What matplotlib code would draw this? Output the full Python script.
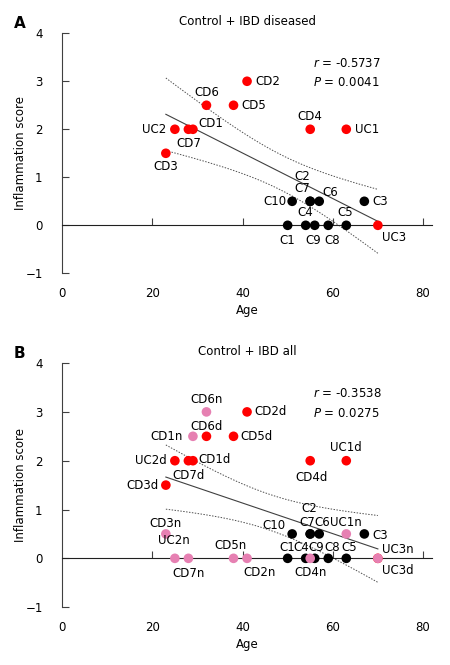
import numpy as np
import matplotlib.pyplot as plt

# controls (shared by both panels)
ctrl_names = ['C1', 'C2', 'C3', 'C4', 'C5', 'C6', 'C7', 'C8', 'C9', 'C10']
ctrl_age = [50, 55, 67, 54, 63, 57, 55, 59, 56, 51]
ctrl_score = [0, 0.5, 0.5, 0, 0, 0.5, 0.5, 0, 0, 0.5]

# IBD patients, diseased tissue
ibd_names = ['UC1', 'UC2', 'UC3', 'CD1', 'CD2', 'CD3', 'CD4', 'CD5', 'CD6', 'CD7']
ibd_age = [63, 25, 70, 29, 41, 23, 55, 38, 32, 28]
ibd_d_score = [2, 2, 0, 2, 3, 1.5, 2, 2.5, 2.5, 2]
# IBD patients, non-diseased tissue
ibd_n_score = [0.5, 0, 0, 2.5, 0, 0.5, 0, 0, 3, 0]

stats_a = ['-0.5737', '0.0041']
stats_b = ['-0.3538', '0.0275']

RED = '#ff0000'
PINK = '#e680b2'
FS = 8.5

# label placement: (dx, dy) in points, ha
lab_a = {
    'C1': (0, -11, 'center'), 'C2': (-6, 18, 'center'), 'C3': (6, 0, 'left'),
    'C4': (0, 9, 'center'), 'C5': (-1, 9, 'center'), 'C6': (8, 6, 'center'),
    'C7': (-6, 9, 'center'), 'C8': (3, -11, 'center'), 'C9': (-1, -11, 'center'),
    'C10': (-4, 0, 'right'),
    'UC1': (6, 0, 'left'), 'UC2': (-6, 0, 'right'), 'UC3': (12, -9, 'center'),
    'CD1': (4, 4, 'left'), 'CD2': (6, 0, 'left'), 'CD3': (0, -9.5, 'center'),
    'CD4': (0, 9, 'center'), 'CD5': (6, 0, 'left'), 'CD6': (0, 9, 'center'),
    'CD7': (0, -10, 'center'),
}
lab_b = {
    'C1': (0, 8, 'center'), 'C2': (-1, 18, 'center'), 'C3': (6, -1, 'left'),
    'C4': (-3, 8, 'center'), 'C5': (2, 8, 'center'), 'C6': (2, 8, 'center'),
    'C7': (-2, 8, 'center'), 'C8': (3, 8, 'center'), 'C9': (1, 8, 'center'),
    'C10': (-5, 6, 'right'),
    'UC1d': (0, 9.5, 'center'), 'UC2d': (-6, 0, 'right'), 'UC3d': (3, -9, 'left'),
    'CD1d': (4, 1, 'left'), 'CD2d': (5, 0, 'left'), 'CD3d': (-5, 0, 'right'),
    'CD4d': (1, -12, 'center'), 'CD5d': (5, 0, 'left'), 'CD6d': (0, 7, 'center'),
    'CD7d': (0, -11, 'center'),
    'UC1n': (0, 8, 'center'), 'UC2n': (-1, 13, 'center'), 'UC3n': (3, 6.5, 'left'),
    'CD1n': (-7, 0, 'right'), 'CD2n': (9, -10, 'center'), 'CD3n': (0, 7.5, 'center'),
    'CD4n': (0, -10, 'center'), 'CD5n': (-2, 9, 'center'), 'CD6n': (0, 9, 'center'),
    'CD7n': (0, -11, 'center'),
}


def fit_with_band(x, y, t_val):
    x = np.asarray(x, float)
    y = np.asarray(y, float)
    n = len(x)
    b, a = np.polyfit(x, y, 1)
    resid = y - (a + b * x)
    s = np.sqrt(np.sum(resid ** 2) / (n - 2))
    sxx = np.sum((x - x.mean()) ** 2)
    xs = np.linspace(x.min(), x.max(), 100)
    yhat = a + b * xs
    half = t_val * s * np.sqrt(1.0 / n + (xs - x.mean()) ** 2 / sxx)
    return xs, yhat, yhat - half, yhat + half


def draw_panel(ax, groups, labels, title, stats, letter):
    ax.set_xlim(0, 82)
    ax.set_ylim(-1, 4)
    xs_all = np.concatenate([g[0] for g in groups])
    ys_all = np.concatenate([g[1] for g in groups])
    xs, yh, lo, hi = fit_with_band(xs_all, ys_all, 2.05)
    ax.plot(xs, yh, color='#404040', lw=0.8, zorder=2)
    ax.plot(xs, lo, color='#505050', lw=0.7, ls=(0, (1.5, 1.5)), zorder=2)
    ax.plot(xs, hi, color='#505050', lw=0.7, ls=(0, (1.5, 1.5)), zorder=2)

    for x, y, names, col in groups:
        ax.scatter(x, y, s=48, color=col, edgecolors='none', zorder=3)
        for xi, yi, nm in zip(x, y, names):
            dx, dy, ha = labels[nm]
            ax.annotate(nm, (xi, yi), xytext=(dx, dy), textcoords='offset points',
                        ha=ha, va='center', fontsize=FS, zorder=4)

    # axes styling
    for sp in ['top', 'right']:
        ax.spines[sp].set_visible(False)
    ax.spines['left'].set_color('#404040')
    ax.spines['bottom'].set_position(('data', 0))
    ax.spines['bottom'].set_color('#202020')
    ax.set_xticks([20, 40, 60, 80])
    ax.tick_params(axis='x', direction='in', length=5, labelbottom=False,
                   color='#404040')
    ax.set_yticks([-1, 0, 1, 2, 3, 4])
    ax.tick_params(axis='y', direction='in', length=5, labelsize=FS,
                   color='#404040', pad=14)
    sec = ax.secondary_xaxis(0)
    sec.spines['bottom'].set_visible(False)
    sec.set_xticks([0, 20, 40, 60, 80])
    sec.tick_params(length=0, labelsize=FS, pad=10)
    sec.set_xlabel('Age', fontsize=FS, labelpad=3)
    ax.set_ylabel('Inflammation score', fontsize=FS, labelpad=-1)
    ax.set_title(title, fontsize=FS, pad=6)
    ax.text(0.678, 0.875, '$r$ = ' + stats[0], transform=ax.transAxes,
            fontsize=FS, ha='left', va='center')
    ax.text(0.678, 0.795, '$P$ = ' + stats[1], transform=ax.transAxes,
            fontsize=FS, ha='left', va='center')
    ax.text(-0.13, 1.04, letter, transform=ax.transAxes, fontsize=11,
            fontweight='bold', ha='left', va='center')


fig = plt.figure(figsize=(4.5, 6.65), dpi=100)
ax_a = fig.add_axes([0.138, 0.589, 0.822, 0.361])
ax_b = fig.add_axes([0.138, 0.087, 0.822, 0.367])

draw_panel(ax_a,
           [(np.array(ctrl_age), np.array(ctrl_score), ctrl_names, 'black'),
            (np.array(ibd_age), np.array(ibd_d_score), ibd_names, RED)],
           lab_a, 'Control + IBD diseased', stats_a, 'A')

draw_panel(ax_b,
           [(np.array(ctrl_age), np.array(ctrl_score), ctrl_names, 'black'),
            (np.array(ibd_age), np.array(ibd_d_score), [n + 'd' for n in ibd_names], RED),
            (np.array(ibd_age), np.array(ibd_n_score), [n + 'n' for n in ibd_names], PINK)],
           lab_b, 'Control + IBD all', stats_b, 'B')

plt.savefig('out.png', dpi=100)
